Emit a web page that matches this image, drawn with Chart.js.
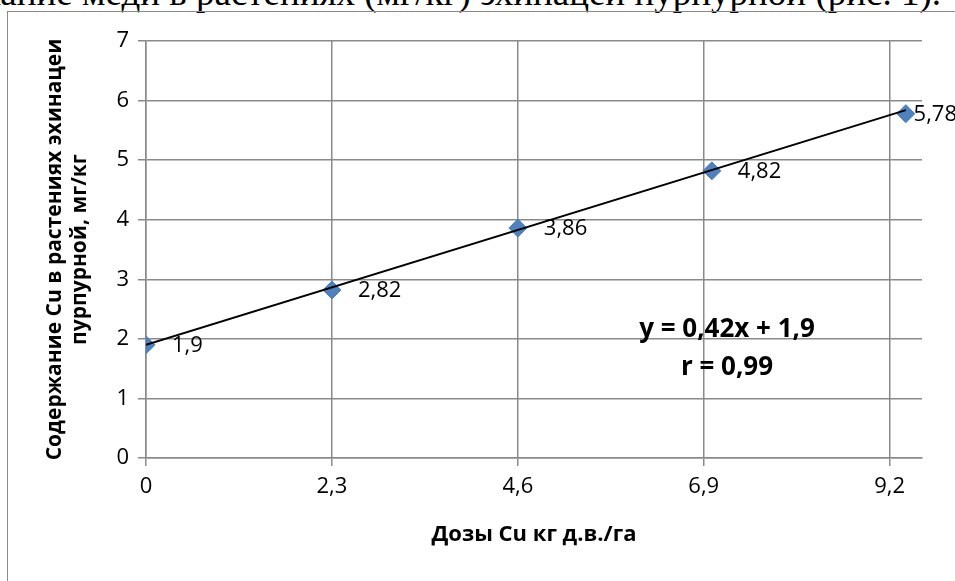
<!DOCTYPE html>
<html>
<head>
<meta charset="utf-8">
<script src="https://cdn.jsdelivr.net/npm/chart.js@4.4.0/dist/chart.umd.min.js"></script>
<style>
  html, body { margin: 0; padding: 0; background: #fff; overflow: hidden; }
  #wrap { position: relative; width: 955px; height: 581px; overflow: hidden; }
  #frame { position: absolute; left: 7px; top: 11px; width: 1000px; height: 700px;
           border: 1.5px solid #8a8a8a; box-sizing: border-box; }
  #para { position: absolute; right: 14px; top: -21px; white-space: nowrap;
          font: 37px "Liberation Serif", serif; line-height: 28px; color: #000; }
  #chart { position: absolute; left: 0; top: 0; }
  #eq { position: absolute; left: 627px; top: 308px; width: 200px; text-align: center;
        font: bold 26px "Open Sans", sans-serif; line-height: 38px; color: #000; }
</style>
</head>
<body>
<div id="wrap">
  <div id="para">Содержание меди в растениях (мг/кг) эхинацеи пурпурной (рис. 1).</div>
  <div id="frame"></div>
  <canvas id="chart" width="955" height="581"></canvas>
  <div id="eq">y = 0,42x + 1,9<br>r = 0,99</div>
</div>
<script>
// дозы Cu, кг д.в./га
const doses = [0, 2.3, 4.6, 7.0, 9.4];
// содержание Cu, мг/кг
const cuContent = [1.9, 2.82, 3.86, 4.82, 5.78];
const xTicks = [0, 2.3, 4.6, 6.9, 9.2];
// линия тренда y = 0,42x + 1,9
const trendX = [0, 9.4];
const trendY = [1.9, 5.84];

const gridGray = '#8a8a8a';
const comma = v => String(v).replace('.', ',');

const pointLabels = {
    id: 'pointLabels',
    afterDatasetsDraw(chart) {
        const { ctx } = chart;
        const meta = chart.getDatasetMeta(0);
        ctx.save();
        ctx.font = '22px "Open Sans"';
        ctx.fillStyle = '#000';
        ctx.textBaseline = 'middle';
        ctx.textAlign = 'left';
        meta.data.forEach((p, i) => {
            const txt = comma(cuContent[i]);
            const w = ctx.measureText(txt).width;
            const x = Math.min(p.x + 26, chart.width + 2 - w);
            ctx.fillText(txt, x, p.y + 1);
        });
        ctx.restore();
    }
};

new Chart(document.getElementById('chart'), {
    data: {
        datasets: [{
            type: 'scatter',
            data: doses.map((d, i) => ({ x: d, y: cuContent[i] })),
            pointStyle: 'rectRot',
            pointRadius: 9,
            backgroundColor: '#4F81BD',
            borderColor: '#4A7EBB',
            borderWidth: 1,
            order: 1
        }, {
            type: 'line',
            data: trendX.map((d, i) => ({ x: d, y: trendY[i] })),
            borderColor: '#000',
            borderWidth: 2,
            pointRadius: 0,
            fill: false,
            order: 0
        }]
    },
    options: {
        responsive: false,
        animation: false,
        devicePixelRatio: 1,
        layout: { padding: { left: 0, top: 41, right: 33, bottom: 0 } },
        plugins: { legend: { display: false }, tooltip: { enabled: false } },
        scales: {
            x: {
                type: 'linear',
                min: 0,
                max: 9.6,
                afterBuildTicks: axis => { axis.ticks = xTicks.map(v => ({ value: v })); },
                afterFit: axis => { axis.height = 123; },
                grid: { color: gridGray, lineWidth: 1.5, tickLength: 8 },
                border: { color: gridGray, width: 1.5 },
                ticks: {
                    color: '#000', padding: 8,
                    font: { family: 'Open Sans', size: 22 },
                    callback: v => comma(v)
                },
                title: {
                    display: true,
                    text: 'Дозы Cu кг д.в./га',
                    color: '#000',
                    font: { family: 'Open Sans', size: 22, weight: 'bold' },
                    padding: { top: 0, bottom: 33 }
                }
            },
            y: {
                min: 0,
                max: 7,
                ticks: {
                    stepSize: 1, color: '#000', padding: 9,
                    font: { family: 'Open Sans', size: 22 }
                },
                afterFit: axis => { axis.width = 146; },
                grid: { color: gridGray, lineWidth: 1.5, tickLength: 8 },
                border: { color: gridGray, width: 1.5 },
                title: {
                    display: true,
                    text: ['Содержание Cu в растениях эхинацеи', 'пурпурной, мг/кг'],
                    color: '#000',
                    font: { family: 'Open Sans', size: 21, weight: 'bold', lineHeight: 1.2 },
                    padding: { top: 42, bottom: 0 }
                }
            }
        }
    },
    plugins: [pointLabels]
});
</script>
</body>
</html>
